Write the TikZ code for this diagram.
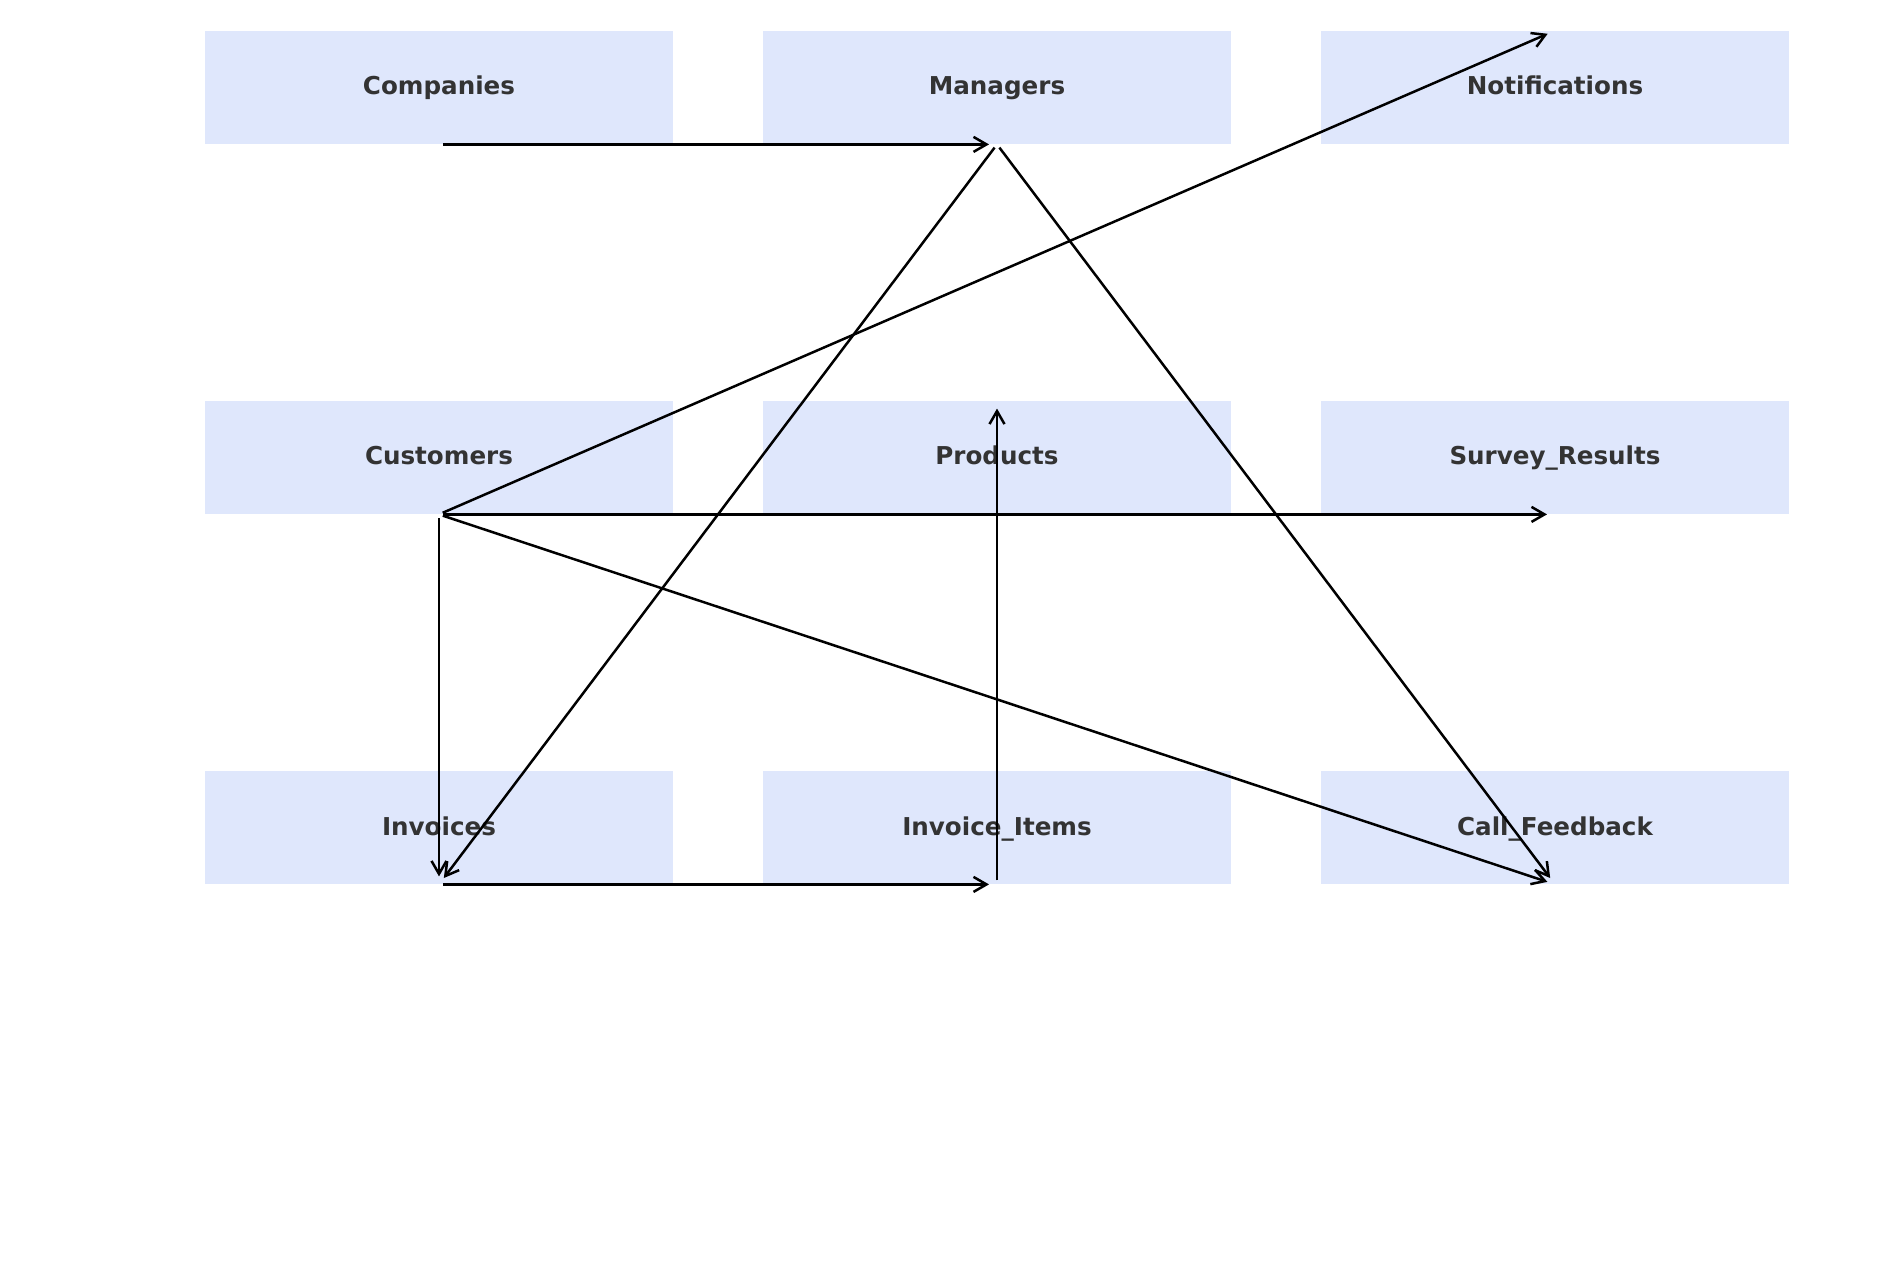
\documentclass[tikz,border=0pt]{standalone}
\usepackage{fontspec}
\setmainfont{DejaVu Sans}
\usetikzlibrary{arrows.meta}
\definecolor{boxfill}{RGB}{223,231,252}
\definecolor{txt}{RGB}{51,51,51}
\tikzset{
  tbl/.style={fill=boxfill, draw=none, minimum width=234pt, minimum height=56.5pt, inner sep=0pt,
    text height=10pt, text depth=2.5pt,
    text=txt, font=\fontsize{12.3pt}{14pt}\selectfont\bfseries},
  rel/.style={draw=black, line width=1.25pt, -{Straight Barb[length=6.5pt,width=7.5pt,line width=1.25pt]},
    shorten <=2pt, shorten >=4pt}
}
\begin{document}
\begin{tikzpicture}[x=0.5pt,y=-0.5pt]
\useasboundingbox (0,0) rectangle (1900,1272);
\node[tbl] (comp) at (439,87.5) {Companies};
\node[tbl] (man) at (997,87.5) {Managers};
\node[tbl] (notif) at (1555,87.5) {Notifications};
\node[tbl] (cust) at (439,457.5) {Customers};
\node[tbl] (prod) at (997,457.5) {Products};
\node[tbl] (surv) at (1555,457.5) {Survey\_Results};
\node[tbl] (inv) at (439,827.5) {Invoices};
\node[tbl] (items) at (997,827.5) {Invoice\_Items};
\node[tbl] (call) at (1555,827.5) {Call\_Feedback};
\draw[rel] (comp.south) -- (man.south);
\draw[rel] (man.south) -- (inv.south);
\draw[rel] (man.south) -- (call.south);
\draw[rel] (cust.south) -- (notif.north);
\draw[rel] (cust.south) -- (surv.south);
\draw[rel] (cust.south) -- (call.south);
\draw[rel] (cust.south) -- (inv.south);
\draw[rel] (inv.south) -- (items.south);
\draw[rel] (items.south) -- (prod.north);
\end{tikzpicture}
\end{document}
